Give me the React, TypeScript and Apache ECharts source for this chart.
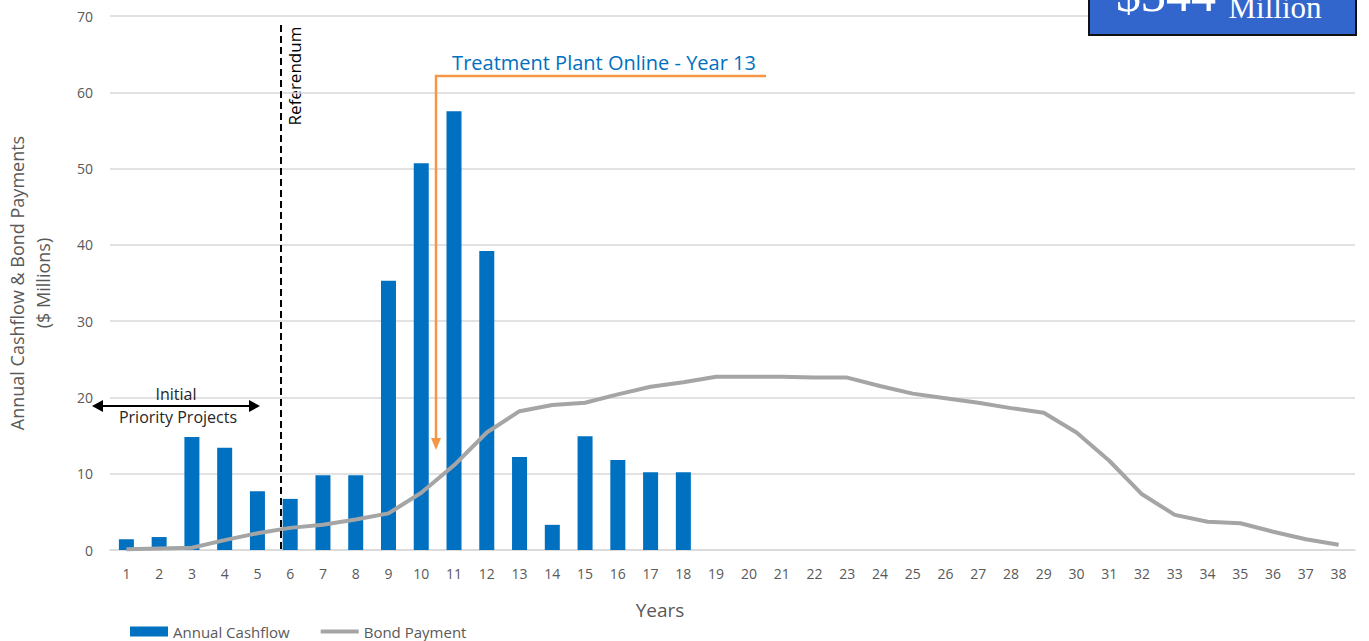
import React, { useEffect, useRef } from "react";
import * as echarts from "echarts";

const years = Array.from({ length: 38 }, (_, i) => String(i + 1));
const annualCashflow: (number | null)[] = [
  1.4, 1.7, 14.8, 13.4, 7.7, 6.7, 9.8, 9.8, 35.3, 50.7, 57.5, 39.2, 12.2, 3.3, 14.9, 11.8, 10.2, 10.2,
];
const bondPayment: number[] = [
  0.1, 0.2, 0.3, 1.3, 2.2, 2.9, 3.3, 4.0, 4.8, 7.5, 11.1, 15.4, 18.2, 19.0, 19.3, 20.4, 21.4, 22.0, 22.7,
  22.7, 22.7, 22.6, 22.6, 21.5, 20.5, 19.9, 19.3, 18.6, 18.0, 15.4, 11.7, 7.3, 4.6, 3.7, 3.5, 2.4, 1.4, 0.7,
];

const FONT = "'Open Sans', 'Noto Sans', sans-serif";
const SERIF = "'Liberation Serif', 'DejaVu Serif', serif";
const GRAY_TEXT = "#595959";

export default function App() {
  const ref = useRef<HTMLDivElement>(null);
  useEffect(() => {
    document.body.style.margin = "0";
    const chart = echarts.init(ref.current!, null, { renderer: "svg" });
    chart.setOption({
      animation: false,
      textStyle: { fontFamily: FONT },
      grid: { left: 110, right: 14, top: 16, bottom: 91, outerBoundsMode: "none", containLabel: false },
      legend: {
        left: 125,
        top: 619,
        itemWidth: 38,
        itemHeight: 10,
        itemGap: 29,
        textStyle: { fontSize: 15, color: GRAY_TEXT, fontFamily: FONT },
        data: [
          { name: "Annual Cashflow", icon: "rect" },
          { name: "Bond Payment", itemStyle: { opacity: 0 }, lineStyle: { width: 4, color: "#A5A5A5" } },
        ],
      },
      xAxis: {
        type: "category",
        data: years,
        axisLine: { lineStyle: { color: "#d9d9d9", width: 1.5 } },
        axisTick: { show: false },
        axisLabel: { fontSize: 14, color: GRAY_TEXT, margin: 16, fontFamily: FONT },
      },
      yAxis: {
        type: "value",
        min: 0,
        max: 70,
        interval: 10,
        name: "Annual Cashflow & Bond Payments\n($ Millions)",
        nameLocation: "middle",
        nameGap: 54,
        nameTextStyle: { fontSize: 18, color: GRAY_TEXT, lineHeight: 26, fontFamily: FONT },
        axisLine: { show: false },
        axisTick: { show: false },
        axisLabel: { fontSize: 14, color: GRAY_TEXT, margin: 17, fontFamily: FONT },
        splitLine: { lineStyle: { color: "#d9d9d9", width: 1.5 } },
      },
      series: [
        {
          name: "Annual Cashflow",
          type: "bar",
          data: annualCashflow,
          barWidth: 15,
          itemStyle: { color: "#0070C0" },
        },
        {
          name: "Bond Payment",
          type: "line",
          data: bondPayment,
          showSymbol: false,
          lineStyle: { color: "#A5A5A5", width: 4 },
          itemStyle: { color: "#A5A5A5" },
        },
      ],
      graphic: [
        {
          type: "text",
          x: 660,
          y: 610,
          style: {
            text: "Years",
            fontSize: 19,
            fill: GRAY_TEXT,
            fontFamily: FONT,
            align: "center",
            verticalAlign: "middle",
          },
        },
        // Referendum dashed line
        {
          type: "line",
          shape: { x1: 281, y1: 25, x2: 281, y2: 550 },
          style: { stroke: "#000", lineWidth: 2, lineDash: [7, 4] },
          z: 10,
        },
        {
          type: "text",
          x: 294,
          y: 76,
          rotation: Math.PI / 2,
          style: {
            text: "Referendum",
            fontSize: 17,
            fill: "#000",
            fontFamily: FONT,
            align: "center",
            verticalAlign: "middle",
          },
        },
        // Treatment plant annotation
        {
          type: "text",
          x: 604,
          y: 62,
          style: {
            text: "Treatment Plant Online - Year 13",
            fontSize: 20,
            fill: "#0070C0",
            fontFamily: FONT,
            align: "center",
            verticalAlign: "middle",
          },
        },
        {
          type: "polyline",
          shape: { points: [[766, 76], [436, 76], [436, 440]] },
          style: { stroke: "#F79646", lineWidth: 2.5, fill: "none" },
          z: 10,
        },
        {
          type: "polygon",
          shape: { points: [[431, 438], [441, 438], [436, 450]] },
          style: { fill: "#F79646" },
          z: 10,
        },
        // Initial priority projects arrow
        {
          type: "line",
          shape: { x1: 100, y1: 406, x2: 252, y2: 406 },
          style: { stroke: "#000", lineWidth: 2 },
          z: 10,
        },
        {
          type: "polygon",
          shape: { points: [[92, 406], [103, 400], [103, 412]] },
          style: { fill: "#000" },
          z: 10,
        },
        {
          type: "polygon",
          shape: { points: [[260, 406], [249, 400], [249, 412]] },
          style: { fill: "#000" },
          z: 10,
        },
        {
          type: "text",
          x: 176,
          y: 394,
          style: {
            text: "Initial",
            fontSize: 16,
            fill: "#262626",
            fontFamily: FONT,
            align: "center",
            verticalAlign: "middle",
          },
          z: 11,
        },
        {
          type: "text",
          x: 178,
          y: 417,
          style: {
            text: "Priority Projects",
            fontSize: 16,
            fill: "#262626",
            fontFamily: FONT,
            align: "center",
            verticalAlign: "middle",
          },
          z: 11,
        },
        // Top-right box (cut off at the top edge, as in the original)
        {
          type: "rect",
          shape: { x: 1089, y: -30, width: 267, height: 65 },
          style: { fill: "#3366CC", stroke: "#111", lineWidth: 2 },
          z: 20,
        },
        {
          type: "text",
          x: 1166,
          y: 19,
          style: {
            text: "$344",
            fontSize: 50,
            fill: "#fff",
            fontFamily: SERIF,
            align: "center",
            verticalAlign: "bottom",
          },
          z: 21,
        },
        {
          type: "text",
          x: 1275,
          y: 7,
          style: {
            text: "Million",
            fontSize: 31,
            fill: "#fff",
            fontFamily: SERIF,
            align: "center",
            verticalAlign: "middle",
          },
          z: 21,
        },
      ],
    });
    return () => chart.dispose();
  }, []);
  return (
    <div
      ref={ref}
      style={{ position: "absolute", left: 0, top: 0, width: 1369, height: 641 }}
    />
  );
}
